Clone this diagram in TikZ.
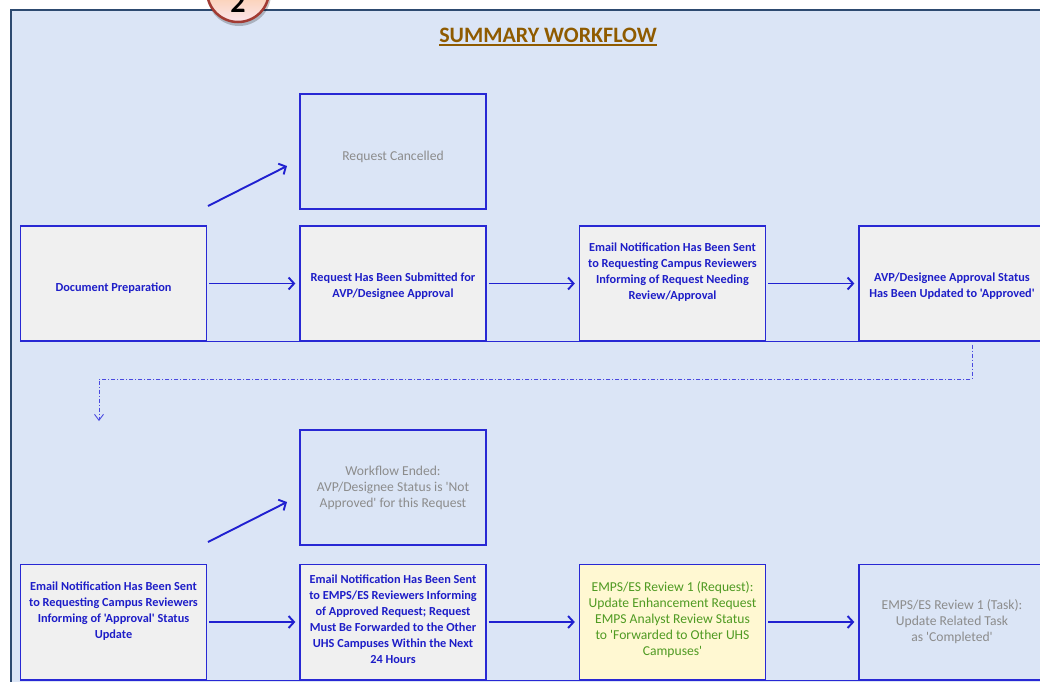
\documentclass[tikz,border=0pt]{standalone}
\usepackage{fontspec}
\setmainfont{Carlito}[Ligatures=TeXOff]
\usetikzlibrary{arrows.meta,calc,shadings}

\definecolor{panelbg}{HTML}{DBE5F6}
\definecolor{panelframe}{HTML}{2D4A70}
\definecolor{boxline}{HTML}{2828D4}
\definecolor{bluetext}{HTML}{1E1EC8}
\definecolor{greyfill}{HTML}{F0F0F0}
\definecolor{greytext}{HTML}{8C8C8C}
\definecolor{yellowfill}{HTML}{FFF8D2}
\definecolor{greentext}{HTML}{4F9A22}
\definecolor{titlebrown}{HTML}{8F5B00}
\definecolor{badgeline}{HTML}{A23B33}
\definecolor{badgetop}{HTML}{F8B465}
\definecolor{badgebottom}{HTML}{FCE6EE}
\definecolor{flowline}{HTML}{2020D0}
\definecolor{jumpline}{HTML}{4A4AE0}

\tikzset{
  stage/.style={draw=boxline, line width=1.3pt, minimum width=186pt,
    minimum height=115pt, inner sep=0pt},
  active/.style={stage, fill=greyfill},
  ended/.style={stage},
  review/.style={stage, fill=yellowfill},
  boldcap/.style={align=center, inner sep=0pt, text=bluetext,
    font=\fontsize{12.3}{16}\selectfont\bfseries},
  greycap/.style={align=center, inner sep=0pt, text=greytext,
    font=\fontsize{13.6}{16}\selectfont},
  greencap/.style={align=center, inner sep=0pt, text=greentext,
    font=\fontsize{13.6}{16}\selectfont},
  flow/.style={draw=flowline, line width=1.9pt,
    -{Straight Barb[length=5.5pt,width=12pt,line width=1.9pt]},
    shorten <=2pt, shorten >=4pt},
  jump/.style={draw=jumpline, line width=0.9pt,
    dash pattern=on 4pt off 2pt on 1pt off 2pt,
    -{Straight Barb[length=6pt,width=9pt,line width=0.9pt]}},
}

\begin{document}
\begin{tikzpicture}[x=1pt,y=-1pt]
\useasboundingbox (0,0) rectangle (1040,681);

% panel
\draw[fill=panelbg, draw=panelframe, line width=2.4pt] (11,10) rectangle (1060,700);

% step badge
\fill[black, opacity=0.22] (239,-6) circle (32);
\shade[top color=badgetop, bottom color=badgebottom, draw=badgeline, line width=2.5pt]
  (238,-9) circle (31);
\node[font=\fontsize{30}{30}\selectfont\bfseries, anchor=base] (badgenum) at (238,12) {2};

% title
\node[font=\fontsize{22}{26}\selectfont\bfseries, text=titlebrown, inner sep=0pt, anchor=base]
  (title) at (548,42) {SUMMARY WORKFLOW};
\path (title.base west) ++(0,3) coordinate (ulA)
      (title.base east) ++(0,3) coordinate (ulB);
\draw[titlebrown, line width=1.8pt] (ulA) -- (ulB);

% first row: boxes
\node[ended] (cancel) at (393,151.5) {};
\node[active] (prep) at (113.5,283.5) {};
\node[active] (submit) at (393,283.5) {};
\node[active] (notify) at (672.5,283.5) {};
\node[active] (approved) at (952,283.5) {};
\draw[boxline, line width=1.3pt] (prep.south west) -- (approved.south east);

% first row: captions
\node[greycap, yshift=-5pt] (cancel-t) at (cancel) {Request Cancelled};
\node[boldcap, yshift=-5pt] (prep-t) at (prep) {Document Preparation};
\node[boldcap, yshift=-3pt] (submit-t) at (submit) {Request Has Been Submitted for\\AVP/Designee Approval};
\node[boldcap, yshift=11pt] (notify-t) at (notify) {Email Notification Has Been Sent\\to Requesting Campus Reviewers\\Informing of Request Needing\\Review/Approval};
\node[boldcap, yshift=-3pt] (approved-t) at (approved) {AVP/Designee Approval Status\\Has Been Updated to 'Approved'};

% first row: connectors
\coordinate (cancelfrom) at (208,206);
\coordinate (cancelto) at (287,166);
\draw[flow, shorten <=0pt, shorten >=0pt] (cancelfrom) -- (cancelto);
\draw[flow] (prep.east) -- (submit.west);
\draw[flow] (submit.east) -- (notify.west);
\draw[flow] (notify.east) -- (approved.west);

% hand-over to second row
\coordinate (jumpfrom) at ($(approved.south)+(20,3)$);
\coordinate (jumpto) at (99,421);
\draw[jump] (jumpfrom) -- (jumpfrom |- 0,379) -| (jumpto);

% second row: boxes
\node[ended] (stopped) at (393,487.5) {};
\node[active] (inform) at (113.5,622) {};
\node[active] (forward) at (393,622) {};
\node[review] (review) at (672.5,622) {};
\node[ended] (task) at (952,622) {};
\draw[boxline, line width=1.3pt] (inform.south west) -- (task.south east);

% second row: captions
\node[greycap] (stopped-t) at (stopped) {Workflow Ended:\\AVP/Designee Status is 'Not\\Approved' for this Request};
\node[boldcap, yshift=11pt] (inform-t) at (inform) {Email Notification Has Been Sent\\to Requesting Campus Reviewers\\Informing of 'Approval' Status\\Update};
\node[boldcap, yshift=2.5pt] (forward-t) at (forward) {Email Notification Has Been Sent\\to EMPS/ES Reviewers Informing\\of Approved Request; Request\\Must Be Forwarded to the Other\\UHS Campuses Within the Next\\24 Hours};
\node[greencap, yshift=2.5pt] (review-t) at (review) {EMPS/ES Review 1 (Request):\\Update Enhancement Request\\EMPS Analyst Review Status\\to 'Forwarded to Other UHS\\Campuses'};
\node[greycap] (task-t) at (task) {EMPS/ES Review 1 (Task):\\Update Related Task\\as 'Completed'};

% second row: connectors
\coordinate (stopfrom) at (208,542);
\coordinate (stopto) at (287,502);
\draw[flow, shorten <=0pt, shorten >=0pt] (stopfrom) -- (stopto);
\draw[flow] (inform.east) -- (forward.west);
\draw[flow] (forward.east) -- (review.west);
\draw[flow] (review.east) -- (task.west);
\end{tikzpicture}
\end{document}
